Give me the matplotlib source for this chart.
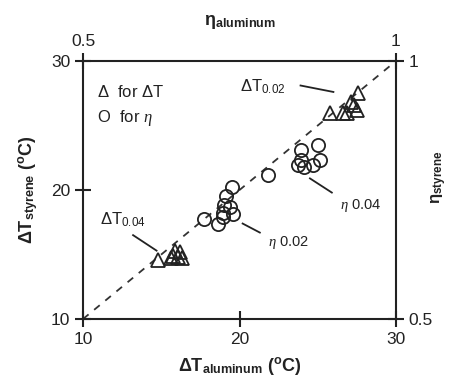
import matplotlib
matplotlib.use("Agg")
import matplotlib.pyplot as plt

plt.rcParams['font.family'] = ['Liberation Sans', 'DejaVu Sans']
plt.rcParams['mathtext.fontset'] = 'custom'
plt.rcParams['mathtext.rm'] = 'Liberation Sans'
plt.rcParams['mathtext.it'] = 'Liberation Serif:italic'
plt.rcParams['mathtext.bf'] = 'Liberation Sans:bold'

# Triangles: delta T (degC), aluminum vs styrene
dT_aluminum = [27.6, 27.1, 25.8, 26.6, 26.9, 27.5, 27.3,
               14.8, 15.6, 15.75, 16.1, 16.3, 16.2, 15.9]
dT_styrene = [27.5, 26.8, 26.0, 26.0, 26.0, 26.2, 26.6,
              14.6, 14.7, 14.9, 14.8, 14.7, 15.2, 15.3]

# Circles: efficiency eta, aluminum vs styrene
eta_aluminum = [0.848, 0.875, 0.848, 0.853, 0.868, 0.878, 0.843, 0.795,
                0.738, 0.728, 0.725, 0.735, 0.740, 0.723, 0.715, 0.693, 0.723]
eta_styrene = [0.828, 0.838, 0.808, 0.795, 0.798, 0.808, 0.798, 0.780,
               0.755, 0.738, 0.720, 0.718, 0.703, 0.698, 0.685, 0.693, 0.705]

T_ticks = [10, 20, 30]
eta_ticks = [0.5, 1]
T_lim = [10, 30]
eta_lim = [0.5, 1]

fig = plt.figure(figsize=(4.51, 3.87), dpi=100)
pos = [83/451, 1-319/387, (396-83)/451, (319-61)/387]
ax = fig.add_axes(pos)
ax.set_xlim(T_lim)
ax.set_ylim(T_lim)
ax.set_xticks(T_ticks)
ax.set_yticks(T_ticks)
ax.tick_params(direction='inout', length=12, width=1.5, labelsize=12.5,
               colors='#222222', pad=3)
for s in ax.spines.values():
    s.set_linewidth(1.5)
    s.set_color('#222222')

ax.plot(T_lim, T_lim, ls=(0, (4, 4)), color='#333333', lw=1.3, zorder=1)
ax.plot(dT_aluminum, dT_styrene, ls='none', marker='^', ms=10.5,
        mfc='none', mec='#222222', mew=1.3, zorder=3)

ax2 = fig.add_axes(pos, frameon=False)
ax2.set_xlim(eta_lim)
ax2.set_ylim(eta_lim)
ax2.set_xticks(eta_ticks)
ax2.set_yticks(eta_ticks)
ax2.set_xticklabels(['0.5', '1'])
ax2.set_yticklabels(['0.5', '1'])
ax2.xaxis.tick_top()
ax2.yaxis.tick_right()
ax2.tick_params(direction='inout', length=12, width=1.5, labelsize=12.5,
                colors='#222222', pad=3)
ax2.plot(eta_aluminum, eta_styrene, ls='none', marker='o', ms=9.5,
         mfc='none', mec='#222222', mew=1.3, zorder=3)

ax.set_xlabel(r'$\mathbf{\Delta T}_{\mathbf{aluminum}}$ $\mathbf{(^{o}C)}$',
              fontsize=13, labelpad=6, color='#222222')
ax.set_ylabel(r'$\mathbf{\Delta T}_{\mathbf{styrene}}$ $\mathbf{(^{o}C)}$',
              fontsize=13, labelpad=8, color='#222222')
ax2.set_xlabel(r'$\mathbf{\eta}_{\mathbf{aluminum}}$', fontsize=13,
               labelpad=6, color='#222222')
ax2.xaxis.set_label_position('top')
ax2.yaxis.set_label_position('right')
ax2.set_ylabel(r'$\mathbf{\eta}_{\mathbf{styrene}}$', fontsize=12,
               color='#222222', rotation=90, va='center', ha='center')
ax2.yaxis.set_label_coords(1.14, 0.55)

kw = dict(color='#222222', fontsize=12, va='center', ha='left')
ax.text(10.9, 27.6, r'$\Delta$  for $\Delta$T', **kw)
ax.text(10.9, 25.6, r'O  for $\eta$', **kw)
ax.text(20.0, 28.0, r'$\Delta\mathrm{T}_{0.02}$', **kw)
ax.text(11.1, 17.7, r'$\Delta\mathrm{T}_{0.04}$', **kw)
ax.text(26.4, 18.8, r'$\it{\eta}$ 0.04', color='#222222', fontsize=10.5,
        va='center', ha='left')
ax.text(21.8, 15.9, r'$\it{\eta}$ 0.02', color='#222222', fontsize=10.5,
        va='center', ha='left')

lkw = dict(color='#222222', lw=1.3)
ax.plot([23.9, 26.0], [28.1, 27.6], **lkw)
ax.plot([13.2, 14.7], [16.5, 15.3], **lkw)
ax.plot([24.5, 25.9], [20.9, 19.8], **lkw)
ax.plot([20.2, 21.3], [17.4, 16.7], **lkw)

fig.savefig('out.png', dpi=100)
